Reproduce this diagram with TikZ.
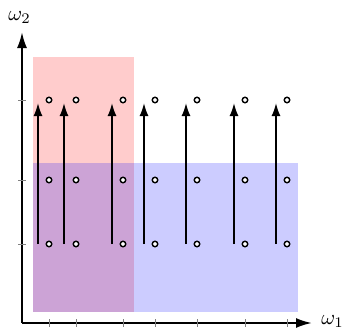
\documentclass[tikz,border=0pt]{standalone}
\usetikzlibrary{arrows.meta}
\begin{document}
\begin{tikzpicture}[x=1pt,y=-1pt,
  axis/.style={line width=2.2pt,-{Latex[length=16pt,width=10pt]}},
  spike/.style={line width=1.8pt,-{Latex[length=13pt,width=9pt]}},
  pt/.style={circle,draw=black,fill=white,line width=1.4pt,inner sep=0pt,minimum size=5.5pt},
  tick/.style={draw=gray,line width=0.6pt},
  lbl/.style={inner sep=0pt,scale=2.1}]
\useasboundingbox (0,0) rectangle (346,330);
% rectangles
\fill[red,fill opacity=0.2] (33,57) rectangle (134,312);
\fill[blue,fill opacity=0.2] (33,163) rectangle (298,312);
% axes
\coordinate (O) at (22,323);
\coordinate (Y) at (22,32);
\coordinate (X) at (312,323);
\draw[axis] (O) -- (Y);
\draw[axis] (O) -- (X);
% ticks
\foreach \y in {100,180,244} \draw[tick] (18,\y) -- (26,\y);
\foreach \x in {49,76,123,155,197,245,287} \draw[tick] (\x,319) -- (\x,327);
% spikes
\foreach \x [count=\i] in {38,64,112,144,186,234,276} {
  \coordinate (b\i) at (\x,244);
  \coordinate (t\i) at (\x,103);
  \draw[spike] (b\i) -- (t\i);
}
% points
\foreach \x [count=\i] in {49,76,123,155,197,245,287} {
  \node[pt] (p\i a) at (\x,100) {};
  \node[pt] (p\i b) at (\x,180) {};
  \node[pt] (p\i c) at (\x,244) {};
}
% labels
\node[lbl,anchor=base west] (w2) at (8,20) {$\omega_2$};
\node[lbl,anchor=base west] (w1) at (321,324) {$\omega_1$};
\end{tikzpicture}
\end{document}
